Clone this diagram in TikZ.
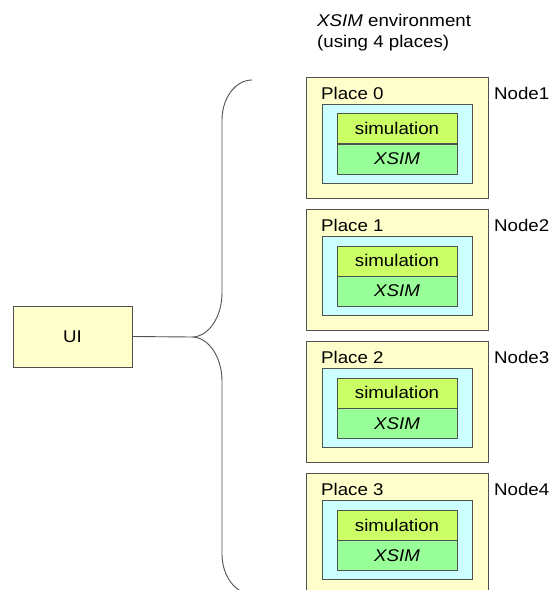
\documentclass[tikz,border=0pt]{standalone}
\usepackage{fontspec}
\setmainfont{Liberation Sans}[FakeStretch=1.1]
\usepackage{tikz}
\usetikzlibrary{positioning,calc}
\definecolor{placebg}{HTML}{FFFFCC}
\definecolor{areabg}{HTML}{CCFFFF}
\definecolor{simbg}{HTML}{CCFF66}
\definecolor{xsimbg}{HTML}{99FF99}
\definecolor{edge}{HTML}{505050}

\begin{document}
\begin{tikzpicture}[x=1pt,y=-1pt,
  font=\fontsize{17}{21}\selectfont,
  box/.style={draw=edge,rectangle,inner sep=0pt},
  placebox/.style={box,fill=placebg,minimum width=182pt,minimum height=121pt},
  areabox/.style={box,fill=areabg,minimum width=150pt,minimum height=79pt},
  simbox/.style={box,fill=simbg,minimum width=120pt,minimum height=30pt},
  xsimbox/.style={box,fill=xsimbg,minimum width=120pt,minimum height=30pt},
  lbl/.style={anchor=base west,inner sep=0pt}]
\useasboundingbox (0,0) rectangle (553,590);
\node[lbl,align=left] (title) at(317,47){\textit{XSIM} environment\\(using 4 places)};
\foreach \i/\n in {0/1,1/2,2/3,3/4}{
  \pgfmathsetmacro{\top}{77+132.2*\i}
  \node[placebox] (place\i) at(397.5,\top+60.5){};
  \node[areabox] (area\i) at(397,\top+66.5){};
  \node[simbox] (sim\i) at(397,\top+51.5){simulation};
  \node[xsimbox,below=0pt of sim\i] (xsim\i){\textit{XSIM}};
  \node[lbl] (plbl\i) at(321,\top+22){Place \i};
  \node[lbl] (host\i) at(494,\top+22){Node\n};
}
\node[box,fill=placebg,minimum width=119pt,minimum height=61pt] (ui) at(72.5,336.5){UI};
\coordinate (tip) at(192,337);
\draw[edge,line width=0.9pt] (252,80) .. controls (235.5,80) and (222,98) .. (222,120)
  -- (222,293) .. controls (222,317) and (208.5,337) .. (tip)
  .. controls (208.5,337) and (222,357) .. (222,381)
  -- (222,554) .. controls (222,576) and (235.5,594) .. (252,594);
\draw[edge,line width=0.9pt] (ui.east)--(tip);
\end{tikzpicture}
\end{document}
